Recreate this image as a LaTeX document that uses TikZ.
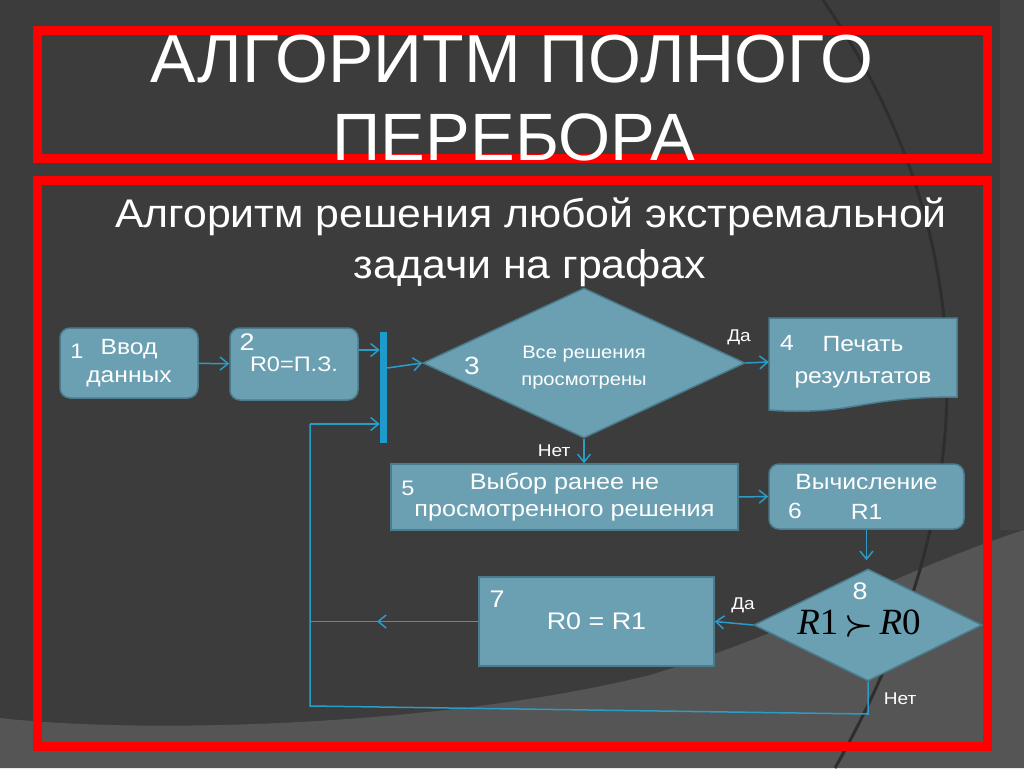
\documentclass[tikz,border=0pt]{standalone}
\usepackage{fontspec}
\usepackage{graphicx}
\setmainfont{Liberation Sans}
\newfontfamily\flowfont[FakeStretch=1.12]{Liberation Sans}
\newfontfamily\subfont[FakeStretch=1.07]{Liberation Sans}
\newfontfamily\timesfont{Liberation Serif}
\usetikzlibrary{shapes.geometric,arrows.meta}
\definecolor{slidebg}{HTML}{3C3C3C}
\definecolor{slidelow}{HTML}{555555}
\definecolor{slidearc}{HTML}{2E2E2E}
\definecolor{framered}{HTML}{FF0000}
\definecolor{boxfill}{HTML}{6BA0B2}
\definecolor{boxedge}{HTML}{4A7C8E}
\definecolor{flowline}{HTML}{2A9CC8}
\definecolor{barblue}{HTML}{1E9BCB}

\tikzset{
  box/.style={draw=boxedge, fill=boxfill, line width=1.5pt, text=white,
    align=center, inner sep=0pt},
  rbox/.style={box, rounded corners=10pt},
  decision/.style={box, diamond},
  num/.style={text=white, inner sep=0pt, font=\flowfont\fontsize{#1}{#1}\selectfont},
  lbl/.style={text=white, inner sep=0pt, font=\flowfont\fontsize{17}{17}\selectfont},
  link/.style={draw=flowline, line width=1.5pt},
  flow/.style={link, -{Straight Barb[length=8pt,width=13pt]}},
  frame/.style={draw=framered, line width=9pt},
}

\begin{document}
\begin{tikzpicture}[x=1pt,y=-1pt]
\useasboundingbox (0,0) rectangle (1024,768);
% slide background
\fill[slidebg] (0,0) rectangle (1024,768);
\fill[slidebg!96!white] (1000,0) rectangle (1024,530);
\fill[slidelow] (0,718) .. controls (150,735) and (450,725) .. (650,675)
  .. controls (800,630) and (900,570) .. (1024,530) -- (1024,768) -- (0,768) -- cycle;
\draw[slidearc, line width=3pt] (823,0) .. controls (960,200) and (1010,460) .. (835,768);

% frames
\draw[frame] (37,31) rectangle (987,158);
\draw[frame] (37,180) rectangle (987,746);

% headings
\node[anchor=base, text=white, inner sep=0pt, font=\fontsize{68}{78}\selectfont] (title1) at (512,82) {АЛГОРИТМ ПОЛНОГО};
\node[anchor=base, text=white, inner sep=0pt, font=\fontsize{67}{78}\selectfont] (title2) at (514,160) {ПЕРЕБОРА};
\node[anchor=base, text=white, inner sep=0pt, font=\subfont\fontsize{40}{48}\selectfont] (sub1) at (531,227) {Алгоритм решения любой экстремальной};
\node[anchor=base, text=white, inner sep=0pt, font=\subfont\fontsize{40}{48}\selectfont] (sub2) at (530,278) {задачи на графах};

% blocks
\node[rbox, minimum width=138pt, minimum height=70pt, font=\flowfont\fontsize{22}{30}\selectfont] (n1) at (129,363) {\raisebox{-2pt}{Ввод}\\данных};
\node[rbox, minimum width=128pt, minimum height=72pt, font=\flowfont\fontsize{21}{28}\selectfont] (n2) at (294,364) {R0=П.З.};
\node[fill=barblue, minimum width=7pt, minimum height=111pt, inner sep=0pt] (bar) at (383.5,387.5) {};
\node[decision, minimum width=322pt, minimum height=150pt] (d3) at (584,363) {};
\node[text=white, align=center, inner sep=0pt, font=\flowfont\fontsize{18}{27}\selectfont] (q3) at (584,368) {Все решения\\просмотрены};
\draw[box] (769,318) -- (957,318) -- (957,397) .. controls (905,397) and (880,402) .. (850,407)
  .. controls (820,412) and (790,412) .. (769,410) -- cycle;
\node[text=white, align=center, inner sep=0pt, minimum width=188pt, minimum height=84pt, font=\flowfont\fontsize{22}{32}\selectfont] (n4) at (863,362) {Печать\\результатов};
\node[box, minimum width=347pt, minimum height=66pt, font=\flowfont\fontsize{22.5}{30}\selectfont] (n5) at (564.5,497) {\raisebox{-3pt}{Выбор ранее не}\\просмотренного решения};
\node[rbox, minimum width=195pt, minimum height=65pt, font=\flowfont\fontsize{22}{30}\selectfont] (n6) at (866.5,496.5) {Вычисление\\R1};
\node[decision, minimum width=228pt, minimum height=112pt] (d8) at (868,625) {};
\node[text=black, inner sep=0pt, font=\timesfont\fontsize{37}{37}\selectfont] (cond) at (859,624) {\textit{R}1\,\scalebox{1.3}{\boldmath$\succ$}\,\textit{R}0};
\node[box, minimum width=235pt, minimum height=89pt, font=\flowfont\fontsize{24}{30}\selectfont] (n7) at (596.5,621.5) {R0 = R1};

% numbers
\node[num=21] (k1) at (77,351) {1};
\node[num=24] (k2) at (247,342) {2};
\node[num=25] (k3) at (472,366) {3};
\node[num=22] (k4) at (787,343) {4};
\node[num=21] (k5) at (408,488) {5};
\node[num=22] (k6) at (795,511) {6};
\node[num=24] (k7) at (497,599) {7};
\node[num=24] (k8) at (860,591) {8};

% branch labels
\node[lbl] (yes3) at (739,337) {Да};
\node[lbl] (no3) at (554,451) {Нет};
\node[lbl] (yes8) at (743,605) {Да};
\node[lbl] (no8) at (900,699) {Нет};

% connectors
\coordinate (loopT) at (310,424);
\coordinate (loopB) at (310,706);
\coordinate (loopR) at (868,714);
\coordinate (ret) at (377,621.5);
\draw[flow] (n1) -- (n2);
\draw[flow] ([yshift=14pt]n2.east) -- ([yshift=14pt]n2.east -| bar.west);
\draw[flow] ([yshift=19.5pt]bar.east) -- (d3.west);
\draw[flow] (d3.east) -- (n4.west);
\draw[flow] (d3.south) -- (d3.south |- n5.north);
\draw[flow] (n5.east) -- (n6.west);
\draw[flow, shorten >=8pt] (n6.south) -- (n6.south |- d8.north);
\draw[flow] (d8.west) -- (n7.east);
\draw[link] (n7.west) -- (n7.west -| loopT);
\draw[flow] (n7.west) -- (ret);
\draw[link] (d8.south) -- (loopR) -- (loopB) -- (loopT);
\draw[flow] (loopT) -- (loopT -| bar.west);
\end{tikzpicture}
\end{document}
